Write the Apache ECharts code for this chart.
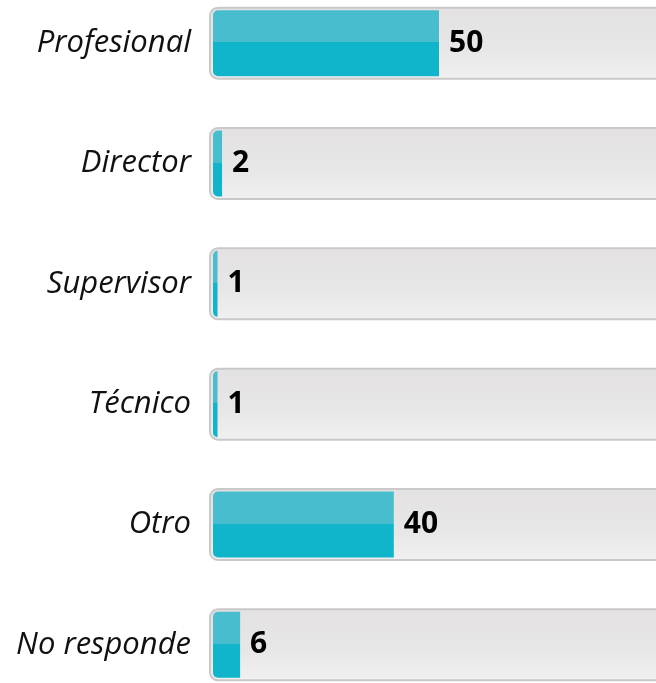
<!DOCTYPE html>
<html>
<head>
<meta charset="utf-8">
<script src="https://cdn.jsdelivr.net/npm/echarts@6/dist/echarts.min.js"></script>
<style>
html,body{margin:0;padding:0;background:#fff;}
#c{width:656px;height:683px;}
</style>
</head>
<body>
<div id="c"></div>
<script>
const categories = ['Profesional', 'Director', 'Supervisor', 'Técnico', 'Otro', 'No responde'];
const values = [50, 2, 1, 1, 40, 6];
const trackMax = 100;

const chart = echarts.init(document.getElementById('c'));
const barGradient = new echarts.graphic.LinearGradient(0, 0, 0, 1, [
  {offset: 0, color: '#48bdce'},
  {offset: 0.485, color: '#48bdce'},
  {offset: 0.485, color: '#10b4cb'},
  {offset: 1, color: '#10b4cb'}
]);
const trackGradient = new echarts.graphic.LinearGradient(0, 0, 0, 1, [
  {offset: 0, color: '#e3e1e2'},
  {offset: 0.6, color: '#e8e7e7'},
  {offset: 1, color: '#f1f1f1'}
]);

chart.setOption({
  animation: false,
  grid: [
    {left: 209, right: -40, top: -17, height: 722, outerBoundsMode: 'none', containLabel: false},
    {left: 213, right: -9, top: -17, height: 722, outerBoundsMode: 'none', containLabel: false}
  ],
  xAxis: [
    {gridIndex: 0, type: 'value', min: 0, max: trackMax, show: false},
    {gridIndex: 1, type: 'value', min: 0, max: trackMax, show: false}
  ],
  yAxis: [
    {
      gridIndex: 0, type: 'category', data: categories, inverse: true,
      axisLine: {show: false}, axisTick: {show: false}, splitLine: {show: false},
      axisLabel: {
        margin: 18, color: '#111', fontSize: 31, fontStyle: 'italic',
        fontFamily: '"Open Sans", Lato, sans-serif'
      }
    },
    {
      gridIndex: 1, type: 'category', data: categories, inverse: true,
      axisLine: {show: false}, axisTick: {show: false}, axisLabel: {show: false}, splitLine: {show: false}
    }
  ],
  series: [
    {
      type: 'bar', xAxisIndex: 0, yAxisIndex: 0,
      data: categories.map(() => trackMax),
      barWidth: 73,
      silent: true,
      itemStyle: {color: trackGradient, borderColor: '#c9c9c9', borderWidth: 2, borderRadius: 8}
    },
    {
      type: 'bar', xAxisIndex: 1, yAxisIndex: 1,
      data: values,
      barWidth: 66,
      itemStyle: {color: barGradient, borderRadius: [5, 0, 0, 5]},
      label: {
        show: true, position: 'right', distance: 10,
        color: '#000', fontSize: 30, fontWeight: 'bold',
        fontFamily: '"Open Sans", Lato, sans-serif'
      }
    }
  ]
});
</script>
</body>
</html>
